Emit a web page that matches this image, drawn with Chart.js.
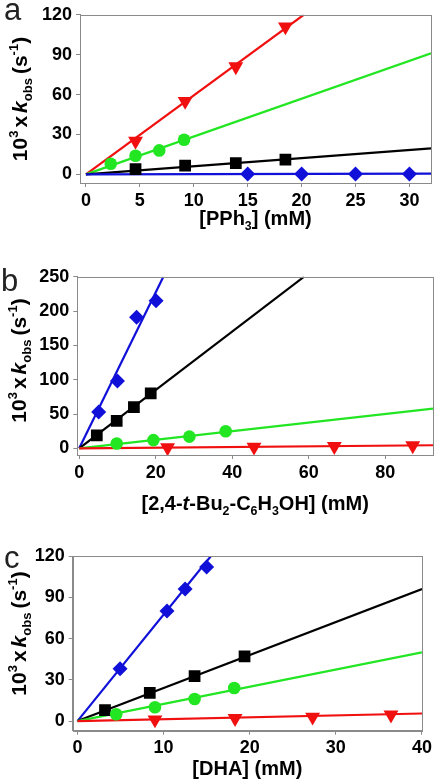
<!DOCTYPE html>
<html>
<head>
<meta charset="utf-8">
<script src="https://cdn.jsdelivr.net/npm/chart.js@4"></script>
<style>
  html, body { margin: 0; padding: 0; background: #fff; }
  #wrap { position: relative; width: 435px; height: 782px; }
  canvas { position: absolute; left: 0; }
</style>
</head>
<body>
<div id="wrap">
  <canvas id="chart-a" width="435" height="260" style="top:0"></canvas>
  <canvas id="chart-b" width="435" height="260" style="top:260px"></canvas>
  <canvas id="chart-c" width="435" height="262" style="top:520px"></canvas>
</div>
<script>
// panel a: [PPh3]
const aRedX = [4.6, 9.2, 13.9, 18.5], aRedY = [25, 55, 81, 111];
const aGreenX = [2.3, 4.6, 6.8, 9.1], aGreenY = [8, 14, 18, 26];
const aBlackX = [4.6, 9.2, 13.9, 18.5], aBlackY = [4, 6.5, 8.5, 11];
const aBlueX = [15, 20, 25, 30], aBlueY = [0.3, 0.3, 0.3, 0.3];
const aRedFit = [[0, 0], [20.2, 120]];
const aGreenFit = [[0, 0], [32, 91]];
const aBlackFit = [[0, 0], [32, 19.5]];
const aBlueFit = [[0, 0], [32, 0.6]];
const aXTicks = [0, 5, 10, 15, 20, 25, 30];
const aYTicks = [0, 30, 60, 90, 120];

// panel b: [2,4-t-Bu2-C6H3OH]
const bBlueX = [5.1, 10, 15, 20.1], bBlueY = [53, 98, 191, 215];
const bBlackX = [4.6, 9.8, 14.3, 18.7], bBlackY = [19, 40, 60, 80];
const bGreenX = [9.8, 19.4, 28.8, 38.3], bGreenY = [7, 12, 17, 25];
const bRedX = [23.1, 45.7, 66.7, 87.2], bRedY = [1, 2, 3, 4];
const bBlueFit = [[0, 0], [22, 250]];
const bBlackFit = [[0, 0], [58.8, 250]];
const bGreenFit = [[0, 0], [92.5, 58]];
const bRedFit = [[0, 0], [92.5, 4.5]];
const bXTicks = [0, 20, 40, 60, 80];
const bYTicks = [0, 50, 100, 150, 200, 250];

// panel c: [DHA]
const cBlueX = [4.95, 10.4, 12.5, 15.0], cBlueY = [38, 80, 96, 112];
const cBlackX = [3.2, 8.4, 13.6, 19.4], cBlackY = [8, 20.5, 32.7, 47];
const cGreenX = [4.5, 9.0, 13.6, 18.2], cGreenY = [5, 10, 16, 24];
const cRedX = [9.0, 18.3, 27.3, 36.4], cRedY = [1, 2, 3, 4.5];
const cBlueFit = [[0, 0], [15.5, 120]];
const cBlackFit = [[0, 0], [40, 96]];
const cGreenFit = [[0, 0], [40, 50]];
const cRedFit = [[0, 0], [40, 5.5]];
const cXTicks = [0, 10, 20, 30, 40];
const cYTicks = [0, 30, 60, 90, 120];

const RED = '#f01010', GREEN = '#22e622', BLUE = '#1010d8', BLACK = '#000000';
const FONT = '"Liberation Sans", Arial, sans-serif';
const AXIS = '#8a8a8a';

// [text, style] ; style 'gap' means text is a pixel width
const yTitle = [['10'], ['3', 'sup'], [3, 'gap'], ['x'], [3, 'gap'], ['k', 'it'], ['obs', 'sub'], [4, 'gap'], ['(s'], ['-1', 'sup'], [')']];

const markers = {
  tri: { pointStyle: 'triangle', rotation: 180, radius: 8.6 },
  circ: { pointStyle: 'circle', rotation: 0, radius: 6.3 },
  sq: { pointStyle: 'rect', rotation: 0, radius: 8.3 },
  dia: { pointStyle: 'rectRot', rotation: 0, radius: 7.5 }
};

function pts(xs, ys) {
  return xs.map((x, i) => ({ x, y: ys[i] }));
}

function scatter(xs, ys, color, kind) {
  const m = markers[kind];
  return {
    type: 'scatter', data: pts(xs, ys), order: 0, showLine: false,
    pointStyle: m.pointStyle, rotation: m.rotation, pointRadius: m.radius,
    backgroundColor: color, borderColor: color, borderWidth: 0, hoverRadius: m.radius
  };
}

function fit(ends, color) {
  return {
    type: 'line', data: ends.map(([x, y]) => ({ x, y })), order: 1,
    borderColor: color, borderWidth: 2.2, pointRadius: 0, fill: false, tension: 0
  };
}

function drawRich(ctx, segs, size, cx, cy, rotate) {
  const fontOf = (s) => {
    const small = s[1] === 'sup' || s[1] === 'sub';
    return (s[1] === 'it' ? 'italic ' : '') + 'bold ' + (small ? size * 0.62 : size) + 'px ' + FONT;
  };
  let total = 0;
  const widths = segs.map((s) => {
    if (s[1] === 'gap') { total += s[0]; return s[0]; }
    ctx.font = fontOf(s);
    const w = ctx.measureText(s[0]).width;
    total += w;
    return w;
  });
  ctx.save();
  ctx.translate(cx, cy);
  if (rotate) ctx.rotate(-Math.PI / 2);
  ctx.fillStyle = '#000';
  ctx.textBaseline = 'alphabetic';
  ctx.textAlign = 'left';
  let x = -total / 2;
  const base = size * 0.36;
  segs.forEach((s, i) => {
    if (s[1] !== 'gap') {
      ctx.font = fontOf(s);
      const dy = s[1] === 'sup' ? -size * 0.42 : s[1] === 'sub' ? size * 0.22 : 0;
      ctx.fillText(s[0], x, base + dy);
    }
    x += widths[i];
  });
  ctx.restore();
}

const decor = {
  id: 'decor',
  afterDraw(chart, args, opts) {
    const { ctx, chartArea: a } = chart;
    ctx.save();
    ctx.strokeStyle = AXIS;
    ctx.lineWidth = 1;
    ctx.strokeRect(Math.round(a.left) + 0.5, Math.round(a.top) + 0.5, Math.round(a.right - a.left), Math.round(a.bottom - a.top));
    ctx.fillStyle = '#222';
    ctx.font = '31px ' + FONT;
    ctx.textBaseline = 'alphabetic';
    ctx.fillText(opts.letter, opts.letterX, opts.letterY);
    ctx.restore();
    drawRich(ctx, yTitle, 21, opts.yTitleX, opts.yTitleY, true);
    drawRich(ctx, opts.xTitle, 20, (a.left + a.right) / 2, opts.xTitleY, false);
  }
};

function makeChart(id, cfg) {
  const tickFont = { family: FONT, size: 18, weight: 'bold' };
  return new Chart(document.getElementById(id), {
    data: { datasets: cfg.datasets },
    plugins: [decor],
    options: {
      responsive: false, animation: false, events: [],
      layout: { autoPadding: false, padding: { left: 0, top: cfg.top, right: cfg.right, bottom: 0 } },
      plugins: { legend: { display: false }, tooltip: { enabled: false }, decor: cfg.decor },
      scales: {
        x: {
          type: 'linear', min: cfg.xMin, max: cfg.xMax,
          afterBuildTicks: (s) => { s.ticks = cfg.xTicks.map((v) => ({ value: v })); },
          afterFit: (s) => { s.height = cfg.xAxisH; },
          grid: { drawOnChartArea: false, drawTicks: true, tickLength: 4, tickColor: AXIS, color: AXIS },
          border: { display: true, color: AXIS, width: 1 },
          ticks: { color: '#000', font: tickFont, padding: 3, maxRotation: 0, autoSkip: false }
        },
        y: {
          type: 'linear', min: cfg.yMin, max: cfg.yMax,
          afterBuildTicks: (s) => { s.ticks = cfg.yTicks.map((v) => ({ value: v })); },
          afterFit: (s) => { s.width = cfg.yAxisW; },
          grid: { drawOnChartArea: false, drawTicks: true, tickLength: 4, tickColor: AXIS, color: AXIS },
          border: { display: true, color: AXIS, width: 1 },
          ticks: { color: '#000', font: tickFont, padding: 4, autoSkip: false }
        }
      }
    }
  });
}

makeChart('chart-a', {
  top: 9, right: 4, yAxisW: 80, xAxisH: 77,
  xMin: -0.55, xMax: 32, yMin: -6.5, yMax: 120, xTicks: aXTicks, yTicks: aYTicks,
  decor: { letter: 'a', letterX: 4, letterY: 20, yTitleX: 19.4, yTitleY: 99, xTitleY: 218, xTitle: [['[PPh'], ['3', 'sub'], ['] (mM)']] },
  datasets: [
    scatter(aBlueX, aBlueY, BLUE, 'dia'), scatter(aBlackX, aBlackY, BLACK, 'sq'),
    scatter(aGreenX, aGreenY, GREEN, 'circ'), scatter(aRedX, aRedY, RED, 'tri'),
    fit(aBlueFit, BLUE), fit(aBlackFit, BLACK), fit(aGreenFit, GREEN), fit(aRedFit, RED)
  ]
});

makeChart('chart-b', {
  top: 16.7, right: 2, yAxisW: 77.3, xAxisH: 65,
  xMin: -0.5, xMax: 92.5, yMin: -9.7, yMax: 250, xTicks: bXTicks, yTicks: bYTicks,
  decor: { letter: 'b', letterX: 1, letterY: 31, yTitleX: 18.4, yTitleY: 100.5, xTitleY: 243,
    xTitle: [['[2,4-'], ['t', 'it'], ['-Bu'], ['2', 'sub'], ['-C'], ['6', 'sub'], ['H'], ['3', 'sub'], ['OH] (mM)']] },
  datasets: [
    scatter(bRedX, bRedY, RED, 'tri'), scatter(bGreenX, bGreenY, GREEN, 'circ'),
    scatter(bBlackX, bBlackY, BLACK, 'sq'), scatter(bBlueX, bBlueY, BLUE, 'dia'),
    fit(bRedFit, RED), fit(bGreenFit, GREEN), fit(bBlackFit, BLACK), fit(bBlueFit, BLUE)
  ]
});

makeChart('chart-c', {
  top: 36, right: 12.7, yAxisW: 72.7, xAxisH: 51.3,
  xMin: -0.55, xMax: 40, yMin: -7, yMax: 120, xTicks: cXTicks, yTicks: cYTicks,
  decor: { letter: 'c', letterX: 4, letterY: 48, yTitleX: 18.4, yTitleY: 113.5, xTitleY: 248, xTitle: [['[DHA] (mM)']] },
  datasets: [
    scatter(cRedX, cRedY, RED, 'tri'), scatter(cGreenX, cGreenY, GREEN, 'circ'),
    scatter(cBlackX, cBlackY, BLACK, 'sq'), scatter(cBlueX, cBlueY, BLUE, 'dia'),
    fit(cRedFit, RED), fit(cGreenFit, GREEN), fit(cBlackFit, BLACK), fit(cBlueFit, BLUE)
  ]
});
</script>
</body>
</html>
